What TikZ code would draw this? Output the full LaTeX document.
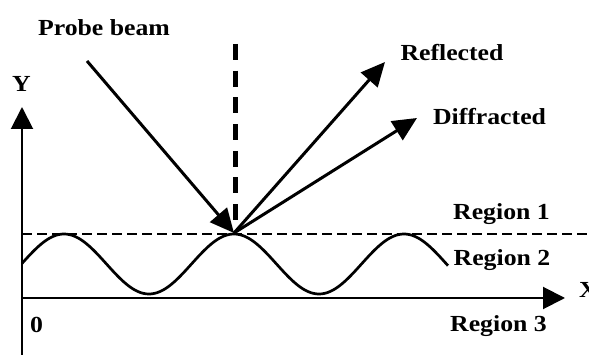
\documentclass[tikz,border=0pt]{standalone}
\usepackage{fontspec}
\setmainfont{Liberation Serif}
\usetikzlibrary{arrows.meta}
\tikzset{
  lbl/.style={inner sep=0pt, anchor=base, font=\fontsize{23}{23}\selectfont\bfseries},
  beam/.style={line width=3pt, -{Triangle[length=24pt,width=22pt]}},
  axis/.style={line width=2pt, -{Triangle[length=22pt,width=22pt]}},
}
\newcommand{\wide}[1]{\scalebox{1.12}[1]{#1}}
\begin{document}
\begin{tikzpicture}[x=1pt,y=-1pt]
\useasboundingbox (0,0) rectangle (589,355);
% coordinates
\coordinate (hit) at (234,233);
\coordinate (pstart) at (87,61);
\coordinate (rend) at (385,62);
\coordinate (dend) at (417,118);
\coordinate (ybot) at (22,355);
\coordinate (ytop) at (22,107);
\coordinate (xleft) at (22,298);
\coordinate (xright) at (565,298);
\coordinate (nt) at (235,44);
\coordinate (nb) at (235,221);
\coordinate (hl) at (22,234);
\coordinate (hr) at (589,234);
% dashed lines
\draw[line width=1.6pt, dash pattern=on 10pt off 5pt] (hl) -- (hr);
\draw[line width=5pt, dash pattern=on 16pt off 10.7pt] (nt) -- (nb);
% wave
\draw[line width=2.7pt] plot[domain=22:448, samples=200, smooth] (\x, {264-30*cos(2.1176*(\x-234))});
% axes
\draw[axis] (ybot) -- (ytop);
\draw[axis] (xleft) -- (xright);
% beams
\draw[beam] (pstart) -- (hit);
\draw[beam] (hit) -- (rend);
\draw[beam] (hit) -- (dend);
% labels
\node[lbl] (lprobe) at (104,36) {\wide{Probe beam}};
\node[lbl] (ly) at (21.5,92) {\wide{Y}};
\node[lbl] (lrefl) at (452,61) {\wide{Reflected}};
\node[lbl] (ldiff) at (489.5,125) {\wide{Diffracted}};
\node[lbl] (lr1) at (501.5,220) {\wide{Region 1}};
\node[lbl] (lr2) at (502,266) {\wide{Region 2}};
\node[lbl] (lr3) at (498.5,331) {\wide{Region 3}};
\node[lbl] (lzero) at (36.5,332) {\wide{0}};
\node[lbl, anchor=base west] (lx) at (579,298) {\wide{X}};
\end{tikzpicture}
\end{document}
